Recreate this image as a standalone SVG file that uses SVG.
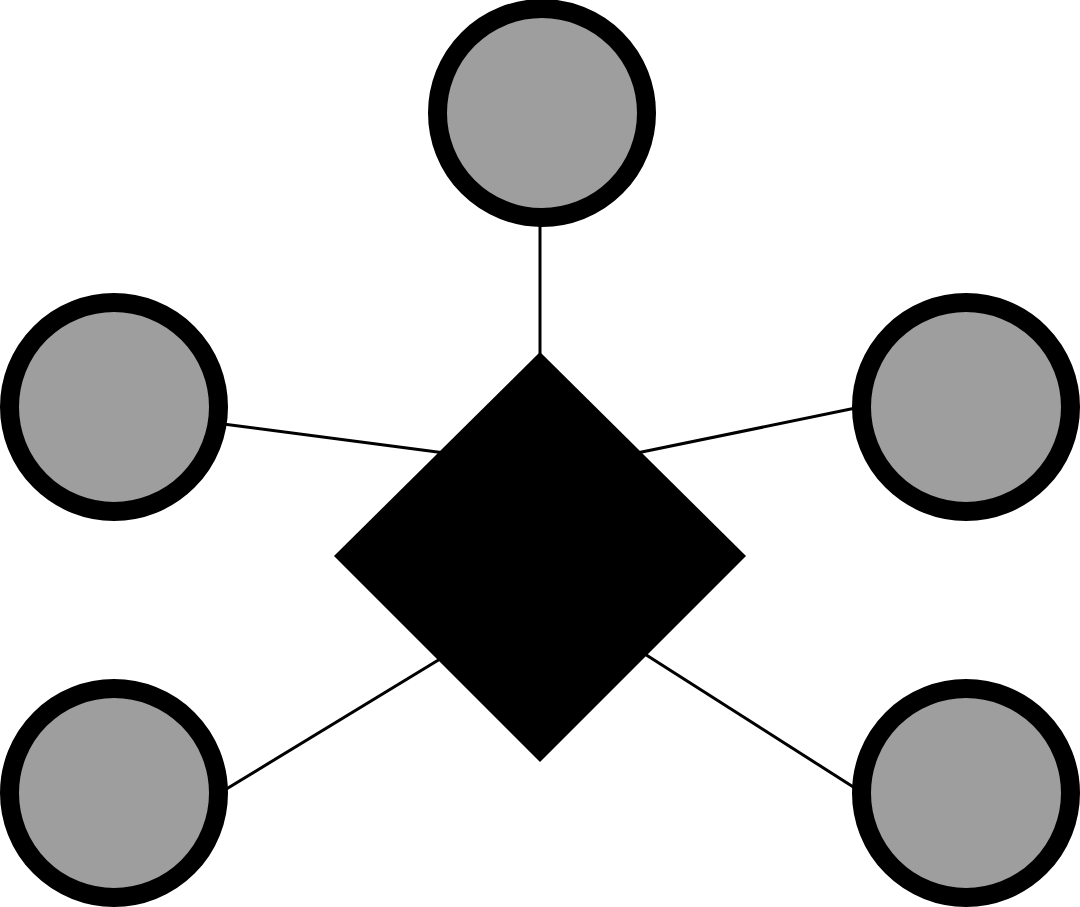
<svg xmlns="http://www.w3.org/2000/svg" width="1080" height="907" viewBox="0 0 1080 907">
<style>
.node{fill:#9e9e9e;stroke:#000;stroke-width:19}
.edge{stroke:#000;stroke-width:3;fill:none}
</style>
<rect width="1080" height="907" fill="#fff"/>
<g id="connectors">
<line class="edge" x1="540" y1="200" x2="540" y2="360"/>
<line class="edge" x1="200" y1="421" x2="445" y2="453"/>
<line class="edge" x1="880" y1="403" x2="632" y2="454"/>
<line class="edge" x1="200" y1="805" x2="445" y2="656"/>
<line class="edge" x1="880" y1="804" x2="640" y2="651"/>
</g>
<g id="hub"><polygon points="540,352 746,556 540,762 334,556" fill="#000"/></g>
<g id="n-top"><circle class="node" cx="542" cy="113" r="104.5"/></g>
<g id="n-left"><circle class="node" cx="114" cy="407" r="104.5"/></g>
<g id="n-right"><circle class="node" cx="966" cy="407" r="104.5"/></g>
<g id="n-bottom-left"><circle class="node" cx="114" cy="793" r="104.5"/></g>
<g id="n-bottom-right"><circle class="node" cx="966" cy="793" r="104.5"/></g>
</svg>
